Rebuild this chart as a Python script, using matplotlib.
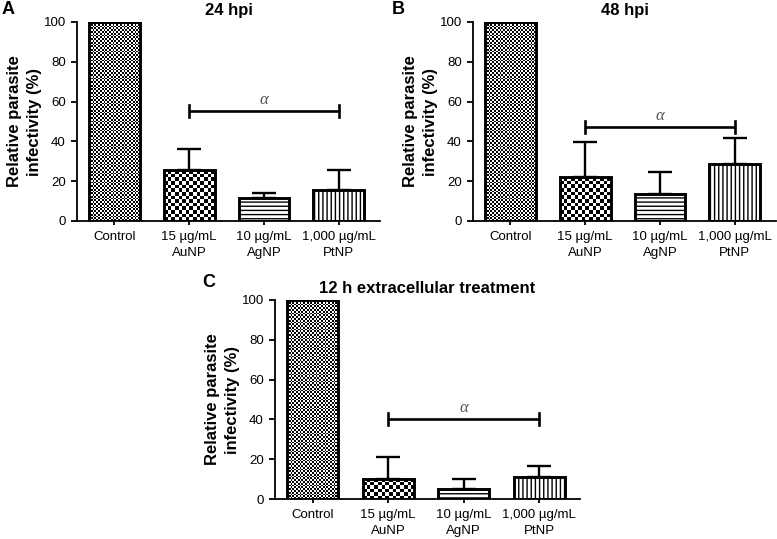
import numpy as np
import matplotlib
matplotlib.use("Agg")
import matplotlib.pyplot as plt

plt.rcParams['font.family'] = ['Liberation Sans', 'DejaVu Sans']
plt.rcParams['hatch.linewidth'] = 1.0

categories = ["Control", "15 µg/mL\nAuNP", "10 µg/mL\nAgNP", "1,000 µg/mL\nPtNP"]
titles = ["24 hpi", "48 hpi", "12 h extracellular treatment"]
letters = ["A", "B", "C"]

means_A = [100, 25.6, 11.5, 15.5]
err_A = [0, 10.5, 2.7, 10.1]
means_B = [100, 21.9, 13.5, 28.6]
err_B = [0, 17.6, 10.9, 13.0]
means_C = [100, 10.2, 5.2, 11.1]
err_C = [0, 10.9, 5.0, 5.3]

bracket_y = [55.3, 47.0, 40.0]
alpha_y = [61.0, 53.0, 45.8]
yticks = [0, 20, 40, 60, 80, 100]

W, H = 777, 539
fig = plt.figure(figsize=(W / 100, H / 100), dpi=100)

panels = [
    dict(rect=[77 / W, 1 - 221 / H, 303 / W, 199 / H], xlim=(-0.5, 3.55), means=means_A, err=err_A,
         letter_xy=(2 / W, 1 - 1 / H)),
    dict(rect=[473 / W, 1 - 221 / H, 303 / W, 199 / H], xlim=(-0.5, 3.55), means=means_B, err=err_B,
         letter_xy=(392 / W, 1 - 1 / H)),
    dict(rect=[275 / W, 1 - 499 / H, 305 / W, 199 / H], xlim=(-0.5, 3.54), means=means_C, err=err_C,
         letter_xy=(202 / W, 1 - 274 / H)),
]

checker_px = [1.8, 3.6, None, None]
hatches = [None, None, '----', '||||']
barw = 0.68


def checker(ax, patch, cell_px, px_per_x, px_per_y):
    x0 = patch.get_x()
    w = patch.get_width()
    y0 = patch.get_y()
    h = patch.get_height()
    nx = max(1, int(round(w * px_per_x / cell_px)))
    ny = max(1, int(round(h * px_per_y / cell_px)))
    ii, jj = np.indices((ny, nx))
    arr = ((ii + jj) % 2).astype(float)
    im = ax.imshow(arr, cmap='gray', vmin=0, vmax=1, extent=(x0, x0 + w, y0, y0 + h),
                   aspect='auto', interpolation='nearest', origin='lower', zorder=1)
    im.set_clip_path(patch)


for k, p in enumerate(panels):
    ax = fig.add_axes(p['rect'])
    x = np.arange(len(categories))
    px_w = p['rect'][2] * W
    px_h = p['rect'][3] * H
    px_per_x = px_w / (p['xlim'][1] - p['xlim'][0])
    px_per_y = px_h / 100.0

    bars = ax.bar(x, p['means'], width=barw, facecolor='white', edgecolor='black',
                  linewidth=2.1, zorder=2)
    for i, b in enumerate(bars):
        if checker_px[i] is not None:
            b.set_facecolor('none')
            checker(ax, b, checker_px[i], px_per_x, px_per_y)
        if hatches[i] is not None:
            b.set_hatch(hatches[i])

    ax.errorbar(x[1:], p['means'][1:], yerr=[np.zeros(3), p['err'][1:]], fmt='none',
                ecolor='black', elinewidth=1.7, capsize=8.5, capthick=1.7, zorder=1.5)

    # significance bracket
    by = bracket_y[k]
    ax.plot([1, 3], [by, by], color='black', lw=1.9, zorder=3, solid_capstyle='butt')
    ax.plot([1, 1], [by - 3, by + 3], color='black', lw=1.9, zorder=3)
    ax.plot([3, 3], [by - 3, by + 3], color='black', lw=1.9, zorder=3)
    ax.text(2, alpha_y[k], 'α', ha='center', va='center', fontsize=12, color='#555555',
            family=['Liberation Serif', 'DejaVu Serif'], style='italic')

    ax.set_xlim(*p['xlim'])
    ax.set_ylim(0, 100)
    ax.set_yticks(yticks)
    ax.set_xticks(x)
    ax.set_xticklabels(categories, fontsize=9.5, linespacing=1.45)
    ax.tick_params(axis='y', labelsize=9.5, length=4.5, width=1.3, direction='out', pad=3.5)
    ax.tick_params(axis='x', length=3, width=1.3, direction='out', pad=4.5)
    for s in ['top', 'right']:
        ax.spines[s].set_visible(False)
    for s in ['left', 'bottom']:
        ax.spines[s].set_linewidth(1.3)
    ax.set_ylabel("Relative parasite\ninfectivity (%)", fontsize=12, fontweight='bold',
                  labelpad=1, linespacing=1.45)
    ax.set_title(titles[k], fontsize=12, fontweight='bold', pad=5)
    fig.text(p['letter_xy'][0], p['letter_xy'][1], letters[k], fontsize=13, fontweight='bold',
             ha='left', va='top')

fig.savefig("out.png", dpi=100)
